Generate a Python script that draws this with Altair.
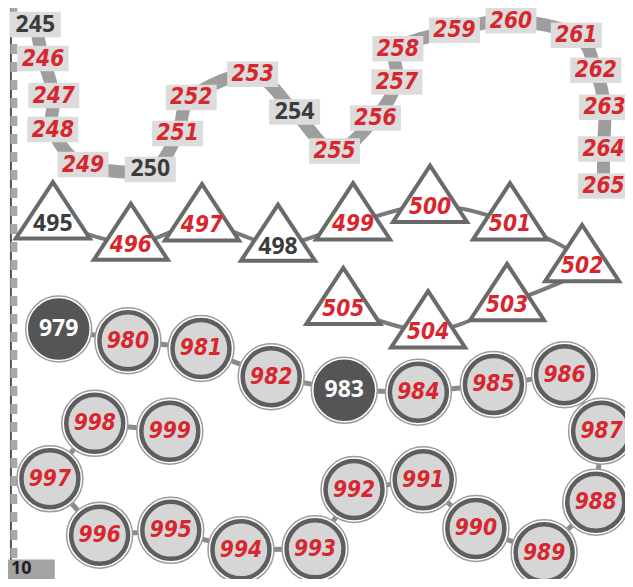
import altair as alt
import pandas as pd

# ---- Series 1: number boxes on a wavy band (245-265) ----
box_labels = [245, 246, 247, 248, 249, 250, 251, 252, 253, 254, 255,
              256, 257, 258, 259, 260, 261, 262, 263, 264, 265]
box_x = [28, 36, 47, 46, 77, 146, 174, 188, 251, 294, 335,
         377, 399, 400, 458, 516, 583, 603, 612, 611, 611]
box_y = [17, 52, 90, 125, 161, 166, 129, 92, 68, 107, 147,
         113, 76, 42, 23, 13, 28, 64, 102, 145, 183]
box_given = [245, 250, 254]

# ---- Series 2: triangles (495-505) ----
tri_labels = [495, 496, 497, 498, 499, 500, 501, 502, 503, 504, 505]
tri_x = [46, 126, 199, 277, 354, 433, 515, 589, 512, 431, 344]
tri_y = [208, 230, 210, 231, 209, 191, 209, 252, 292, 320, 296]
tri_given = [495, 498]

# ---- Series 3: circles (979-999) ----
cir_labels = [979, 980, 981, 982, 983, 984, 985, 986, 987, 988, 989,
              990, 991, 992, 993, 994, 995, 996, 997, 998, 999]
cir_x = [52, 123, 198, 270, 345, 421, 498, 571, 609, 603, 550,
         480, 426, 355, 315, 239, 167, 94, 43, 89, 166]
cir_y = [330, 342, 350, 379, 393, 395, 387, 377, 435, 508, 560,
         535, 485, 495, 556, 557, 537, 542, 484, 427, 435]
cir_given = [979, 983]

page_no = ["10"]

RED = "#d7262e"
DARK = "#3c3c3c"
RED_FONT = "DejaVu Sans Condensed"
DARK_FONT = "Open Sans"

W, H = 617, 571
xs = alt.Scale(domain=[0, 633], nice=False, zero=False)
ys = alt.Scale(domain=[0, 587], nice=False, zero=False, reverse=True)


def frame(labels, xv, yv, given):
    df = pd.DataFrame({"label": labels, "x": xv, "y": yv})
    df["idx"] = range(len(df))
    df["given"] = df["label"].isin(given)
    df["text"] = df["label"].astype(str)
    return df


boxes = frame(box_labels, box_x, box_y, box_given)
tris = frame(tri_labels, tri_x, tri_y, tri_given)
cirs = frame(cir_labels, cir_x, cir_y, cir_given)

X = alt.X("x:Q", scale=xs, axis=None)
Y = alt.Y("y:Q", scale=ys, axis=None)

# band
band = alt.Chart(boxes).mark_line(
    interpolate="cardinal", strokeWidth=13, color="#9e9e9e", strokeCap="butt"
).encode(x=X, y=Y, order="idx:Q")

box_marks = alt.Chart(boxes).mark_point(
    shape="M-1,-0.5H1V0.5H-1Z", filled=True, opacity=1, color="#dcdcdc", size=51 * 51
).encode(x=X, y=Y)

box_red = alt.Chart(boxes).transform_filter("!datum.given").mark_text(
    font=RED_FONT, fontSize=22.5, fontWeight="bold", fontStyle="italic", color=RED,
    baseline="middle", align="center"
).encode(x=X, y=Y, text="text:N")

box_dark = alt.Chart(boxes).transform_filter("datum.given").mark_text(
    font=DARK_FONT, fontSize=23, fontWeight="bold", color=DARK,
    baseline="middle", align="center"
).encode(x=X, y=Y, text="text:N")

# triangles
tri_line = alt.Chart(tris).transform_calculate(ly="datum.y + 12").mark_line(
    interpolate="cardinal", strokeWidth=4, color="#7a7a7a"
).encode(x=X, y=alt.Y("ly:Q", scale=ys, axis=None), order="idx:Q")

tri_marks = alt.Chart(tris).mark_point(
    shape="M0,-0.76L1,0.76L-1,0.76Z", filled=False, fill="white", fillOpacity=1,
    stroke="#6a6a6a", strokeWidth=4, opacity=1, strokeJoin="miter", size=74 * 74
).encode(x=X, y=Y)

tri_red = alt.Chart(tris).transform_filter("!datum.given").mark_text(
    font=RED_FONT, fontSize=22.5, fontWeight="bold", fontStyle="italic", color=RED,
    baseline="middle", align="center", dy=13
).encode(x=X, y=Y, text="text:N")

tri_dark = alt.Chart(tris).transform_filter("datum.given").mark_text(
    font=DARK_FONT, fontSize=23, fontWeight="bold", color=DARK,
    baseline="middle", align="center", dy=14
).encode(x=X, y=Y, text="text:N")

# circles
cir_line = alt.Chart(cirs).mark_line(strokeWidth=5, color="#8a8a8a").encode(
    x=X, y=Y, order="idx:Q")

cir_outer = alt.Chart(cirs).mark_point(
    shape="circle", filled=False, fill="white", fillOpacity=1, stroke="#9c9c9c",
    strokeWidth=1.5, opacity=1, size=66 * 66
).encode(x=X, y=Y)

cir_inner = alt.Chart(cirs).mark_point(
    shape="circle", filled=False, fillOpacity=1, strokeWidth=4.5, opacity=1,
    size=57 * 57
).encode(
    x=X, y=Y,
    fill=alt.condition("datum.given", alt.value("#555555"), alt.value("#d6d6d6")),
    stroke=alt.condition("datum.given", alt.value("#555555"), alt.value("#5e5e5e")),
)

cir_red = alt.Chart(cirs).transform_filter("!datum.given").mark_text(
    font=RED_FONT, fontSize=22.5, fontWeight="bold", fontStyle="italic", color=RED,
    baseline="middle", align="center"
).encode(x=X, y=Y, text="text:N")

cir_white = alt.Chart(cirs).transform_filter("datum.given").mark_text(
    font=DARK_FONT, fontSize=23, fontWeight="bold", color="white",
    baseline="middle", align="center"
).encode(x=X, y=Y, text="text:N")

# page decorations: left dashed border and the page number tab
border_line = alt.Chart(pd.DataFrame({"x": [3]})).mark_rule(
    strokeWidth=2, color="#555555"
).encode(x=X, y=alt.value(0), y2=alt.value(H))
border = alt.Chart(pd.DataFrame({"x": [6]})).mark_rule(
    strokeWidth=7, color="#a8a8a8", strokeDash=[10, 8]
).encode(x=X, y=alt.value(0), y2=alt.value(H))

page_df = pd.DataFrame({"x": [0], "x2": [48], "y": [567], "y2": [587], "t": page_no})
page_box = alt.Chart(page_df).mark_rect(color="#a3a3a3").encode(
    x=X, x2="x2:Q", y=Y, y2="y2:Q")
page_txt = alt.Chart(page_df).mark_text(
    font=DARK_FONT, fontSize=18, fontWeight="bold", color="#222222",
    align="left", baseline="middle", dx=3, dy=9
).encode(x=X, y=Y, text="t:N")

chart = alt.layer(
    border_line, border, page_box, page_txt,
    band, box_marks, box_red, box_dark,
    tri_line, tri_marks, tri_red, tri_dark,
    cir_line, cir_outer, cir_inner, cir_red, cir_white,
).properties(
    width=W, height=H, padding=0, autosize=alt.AutoSizeParams(type="none"),
    background="white"
).configure_view(stroke=None)

chart.save("out.html", embed_options={"renderer": "svg", "actions": False})
